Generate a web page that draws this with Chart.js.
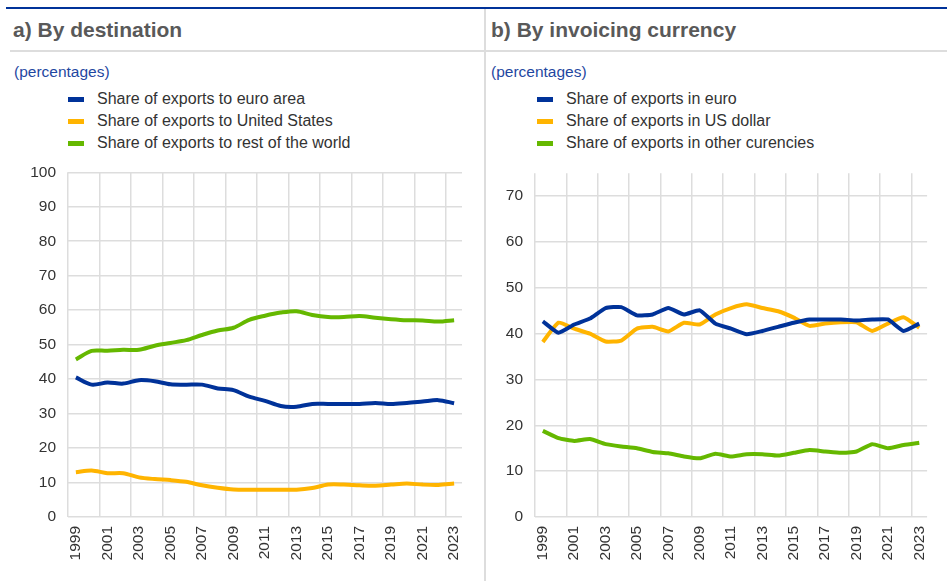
<!DOCTYPE html>
<html>
<head>
<meta charset="utf-8">
<script src="https://cdn.jsdelivr.net/npm/chart.js@4"></script>
<style>
  body { margin: 0; background: #fff; font-family: "Liberation Sans", Arial, sans-serif; }
  #page { position: relative; width: 947px; height: 581px; overflow: hidden; }
  .topline { position: absolute; left: 6px; right: 0; top: 7px; height: 2px; background: #003299; }
  .sep { position: absolute; left: 484px; top: 9px; bottom: 0; width: 2px; background: #dddddd; }
  .rule { position: absolute; top: 50px; height: 2px; background: #dddddd; }
  .title { position: absolute; top: 18px; font-size: 21px; font-weight: bold; color: #595959; }
  .unit { position: absolute; top: 63px; font-size: 15.5px; color: #1f47a1; }
  .legend { position: absolute; top: 88px; font-size: 16px; color: #333; }
  .legend div { height: 22px; line-height: 22px; position: relative; padding-left: 29px; }
  .legend span { position: absolute; left: 0; top: 9px; width: 16px; height: 5px; }
  canvas { position: absolute; }
</style>
</head>
<body>
<div id="page">
  <div class="topline"></div>
  <div class="sep"></div>
  <div class="rule" style="left:10px; width:474px;"></div>
  <div class="rule" style="left:486px; right:0;"></div>
  <div class="title" style="left:13px;">a) By destination</div>
  <div class="title" style="left:491px;">b) By invoicing currency</div>
  <div class="unit" style="left:14px;">(percentages)</div>
  <div class="unit" style="left:491px;">(percentages)</div>
  <div class="legend" id="legendA" style="left:68px;"></div>
  <div class="legend" id="legendB" style="left:537px;"></div>
  <div style="position:absolute; left:0; top:151px; width:482px; height:430px;"><canvas id="chartA"></canvas></div>
  <div style="position:absolute; left:487px; top:152px; width:460px; height:429px;"><canvas id="chartB"></canvas></div>
</div>
<script>
// years on the x axis
var years = [];
for (var y = 1999; y <= 2023; y++) years.push(String(y));

// panel a) by destination
var euroArea      = [40.5, 38.4, 39.0, 38.7, 39.7, 39.4, 38.5, 38.4, 38.4, 37.3, 36.8, 34.9, 33.7, 32.2, 32.0, 32.8, 32.8, 32.8, 32.8, 33.1, 32.8, 33.1, 33.5, 33.9, 33.0];
var unitedStates  = [13.0, 13.5, 12.7, 12.7, 11.5, 11.0, 10.7, 10.2, 9.2, 8.5, 8.0, 7.9, 7.9, 7.9, 7.9, 8.4, 9.4, 9.4, 9.2, 9.1, 9.4, 9.7, 9.4, 9.3, 9.7];
var restOfWorld   = [45.7, 48.2, 48.2, 48.5, 48.5, 49.7, 50.5, 51.3, 52.8, 54.1, 54.9, 57.2, 58.4, 59.3, 59.7, 58.6, 58.0, 58.0, 58.3, 57.8, 57.4, 57.1, 57.0, 56.7, 57.1];

// panel b) by invoicing currency
var inEuro        = [42.7, 40.2, 42.0, 43.3, 45.6, 45.8, 44.0, 44.2, 45.6, 44.2, 45.1, 42.2, 41.1, 39.9, 40.6, 41.5, 42.4, 43.1, 43.1, 43.1, 42.9, 43.1, 43.1, 40.6, 42.2];
var inUsDollar    = [38.2, 42.4, 41.1, 40.0, 38.3, 38.5, 41.1, 41.5, 40.5, 42.4, 42.0, 44.2, 45.6, 46.4, 45.6, 44.9, 43.5, 41.7, 42.2, 42.5, 42.5, 40.6, 42.2, 43.6, 41.3];
var inOther       = [18.8, 17.2, 16.6, 17.0, 15.9, 15.4, 15.0, 14.2, 13.9, 13.2, 12.8, 13.8, 13.2, 13.7, 13.7, 13.4, 14.0, 14.6, 14.3, 14.0, 14.3, 15.9, 15.0, 15.7, 16.2];

var labelsA = ["Share of exports to euro area", "Share of exports to United States", "Share of exports to rest of the world"];
var labelsB = ["Share of exports in euro", "Share of exports in US dollar", "Share of exports in other curencies"];
var colours = ["#003299", "#FFB400", "#65B800"];

var gridColour = "#dddddd";
var yFont = { family: "Liberation Sans, Arial, sans-serif", size: 15.5 };
var xFont = { family: "Liberation Sans, Arial, sans-serif", size: 15.5 };

function makeLegend(id, labels) {
  var html = "";
  for (var i = 0; i < labels.length; i++) {
    html += '<div><span style="background:' + colours[i] + '"></span>' + labels[i] + '</div>';
  }
  document.getElementById(id).innerHTML = html;
}
makeLegend("legendA", labelsA);
makeLegend("legendB", labelsB);

function datasets(labels, series, tension) {
  return series.map(function (s, i) {
    return { label: labels[i], data: s, borderColor: colours[i], backgroundColor: colours[i],
             borderWidth: 4, pointRadius: 0, tension: tension, fill: false };
  });
}

function makeOptions(yMax, yWidth, padRight) {
  return {
    responsive: true,
    maintainAspectRatio: false,
    animation: false,
    layout: { padding: { top: 0, right: padRight, bottom: 0, left: 0 } },
    plugins: { legend: { display: false }, tooltip: { enabled: false } },
    scales: {
      x: {
        offset: true,
        grid: {
          offset: true,
          drawTicks: false,
          color: function (ctx) { return (ctx.index !== undefined && ctx.index % 2 === 0) ? gridColour : "rgba(0,0,0,0)"; },
          lineWidth: 1.5
        },
        border: { display: false },
        ticks: {
          autoSkip: false, maxRotation: 90, minRotation: 90, padding: 9,
          color: "#333", font: xFont,
          callback: function (v, i) { return i % 2 === 0 ? years[i] : ""; }
        },
        afterFit: function (scale) { scale.height = 64; }
      },
      y: {
        min: 0, max: yMax,
        grid: { color: gridColour, lineWidth: 1.5, drawTicks: false },
        border: { display: false },
        ticks: { stepSize: 10, padding: 12, color: "#333", font: yFont },
        afterBuildTicks: function (axis) { axis.ticks = axis.ticks.filter(function (t) { return t.value % 10 === 0; }); },
        afterFit: function (scale) { scale.width = yWidth; }
      }
    }
  };
}

new Chart(document.getElementById("chartA").getContext("2d"), {
  type: "line",
  data: { labels: years, datasets: datasets(labelsA, [euroArea, unitedStates, restOfWorld], 0.3) },
  options: makeOptions(100, 68, 14)
});

new Chart(document.getElementById("chartB").getContext("2d"), {
  type: "line",
  data: { labels: years, datasets: datasets(labelsB, [inEuro, inUsDollar, inOther], 0.15) },
  options: makeOptions(75, 48, 7)
});
</script>
</body>
</html>
